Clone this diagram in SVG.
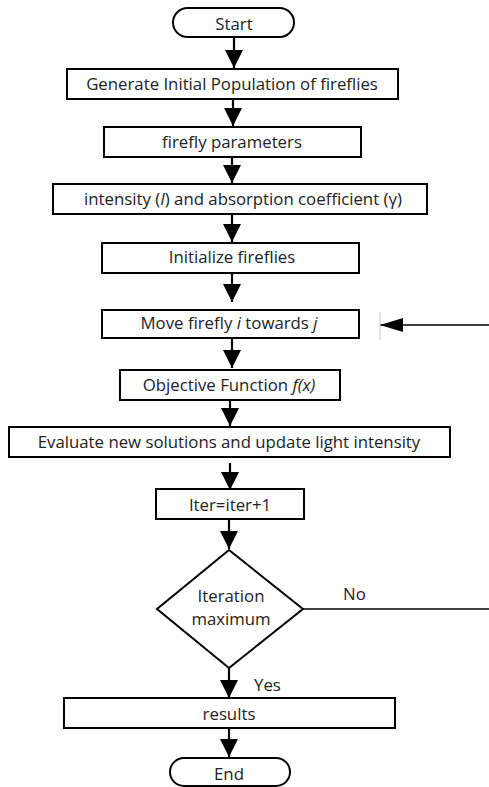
<svg xmlns="http://www.w3.org/2000/svg" width="489" height="787" viewBox="0 0 489 787">
  <defs>
    <marker id="arrow" viewBox="0 0 18 18" refX="18" refY="9" markerWidth="18" markerHeight="18" markerUnits="userSpaceOnUse" orient="auto">
      <path d="M0,0 L18,9 L0,18 Z" fill="#000"/>
    </marker>
    <marker id="arrow-long" viewBox="0 0 23 14" refX="23" refY="7" markerWidth="23" markerHeight="14" markerUnits="userSpaceOnUse" orient="auto">
      <path d="M0,0 L23,7 L0,14 Z" fill="#000"/>
    </marker>
  </defs>
  <style>
    .box { fill: #fff; stroke: #000; stroke-width: 2; }
    .edge { fill: none; stroke: #000; stroke-width: 2.2; }
    .lbl { font-family: "Open Sans", "Liberation Sans", sans-serif; font-size: 16.8px; fill: #222; text-anchor: middle; }
    .side { font-family: "Open Sans", "Liberation Sans", sans-serif; font-size: 16.8px; fill: #222; }
  </style>
  <rect width="489" height="787" fill="#fff"/>

  <g id="connectors">
    <line class="edge" x1="234" y1="37" x2="234" y2="68" marker-end="url(#arrow)"/>
    <line class="edge" x1="233" y1="99" x2="233" y2="126" marker-end="url(#arrow)"/>
    <line class="edge" x1="232" y1="157" x2="232" y2="183" marker-end="url(#arrow)"/>
    <line class="edge" x1="232" y1="214" x2="232" y2="242" marker-end="url(#arrow)"/>
    <line class="edge" x1="232" y1="273" x2="232" y2="302" marker-end="url(#arrow)"/>
    <line class="edge" x1="232" y1="338" x2="232" y2="368" marker-end="url(#arrow)"/>
    <line class="edge" x1="230" y1="400" x2="230" y2="426" marker-end="url(#arrow)"/>
    <line class="edge" x1="230" y1="463" x2="230" y2="490" marker-end="url(#arrow)"/>
    <line class="edge" x1="229" y1="519" x2="229" y2="549" marker-end="url(#arrow)"/>
    <line class="edge" x1="229" y1="668" x2="229" y2="698" marker-end="url(#arrow)"/>
    <line class="edge" x1="229" y1="728" x2="229" y2="757" marker-end="url(#arrow)"/>
    <!-- loop back: No branch out of the decision, return into the move step -->
    <line x1="303" y1="609" x2="489" y2="609" stroke="#000" stroke-width="1.6"/>
    <line x1="489" y1="325" x2="380" y2="325" stroke="#000" stroke-width="1.6" marker-end="url(#arrow-long)"/>
    <line x1="380" y1="312" x2="380" y2="340" stroke="#ccc" stroke-width="1"/>
    <text class="side" x="343" y="600">No</text>
    <text class="side" x="254" y="691">Yes</text>
  </g>

  <g id="start">
    <rect class="box" x="173" y="8" width="121" height="29" rx="14.5"/>
    <text class="lbl" x="234" y="30">Start</text>
  </g>
  <g id="generate">
    <rect class="box" x="67" y="69" width="331" height="30"/>
    <text class="lbl" x="232" y="90">Generate Initial Population of fireflies</text>
  </g>
  <g id="parameters">
    <rect class="box" x="104" y="127" width="257" height="30"/>
    <text class="lbl" x="232" y="148">firefly parameters</text>
  </g>
  <g id="intensity">
    <rect class="box" x="53" y="184" width="374" height="30"/>
    <text class="lbl" x="243" y="205">intensity (<tspan font-style="italic">I</tspan>) and absorption coefficient (γ)</text>
  </g>
  <g id="initialize">
    <rect class="box" x="102" y="243" width="257" height="30"/>
    <text class="lbl" x="232" y="263">Initialize fireflies</text>
  </g>
  <g id="move">
    <rect class="box" x="102" y="310" width="257" height="28"/>
    <text class="lbl" x="229" y="329">Move firefly <tspan font-style="italic">i</tspan> towards <tspan font-style="italic">j</tspan></text>
  </g>
  <g id="objective">
    <rect class="box" x="120" y="370" width="220" height="30"/>
    <text class="lbl" x="229" y="391">Objective Function <tspan font-style="italic">f(x)</tspan></text>
  </g>
  <g id="evaluate">
    <rect class="box" x="9" y="427" width="441" height="30"/>
    <text class="lbl" x="229" y="448">Evaluate new solutions and update light intensity</text>
  </g>
  <g id="iter">
    <rect class="box" x="156" y="489" width="148" height="30"/>
    <text class="lbl" x="230" y="511">Iter=iter+1</text>
  </g>
  <g id="decision">
    <polygon class="box" points="229,550 303,609 229,668 157,609"/>
    <text class="lbl" x="231" y="602">Iteration</text>
    <text class="lbl" x="231" y="625">maximum</text>
  </g>
  <g id="results">
    <rect class="box" x="64" y="698" width="331" height="30"/>
    <text class="lbl" x="229" y="720">results</text>
  </g>
  <g id="end">
    <rect class="box" x="170" y="758" width="120" height="28" rx="14"/>
    <text class="lbl" x="229" y="780">End</text>
  </g>
</svg>
